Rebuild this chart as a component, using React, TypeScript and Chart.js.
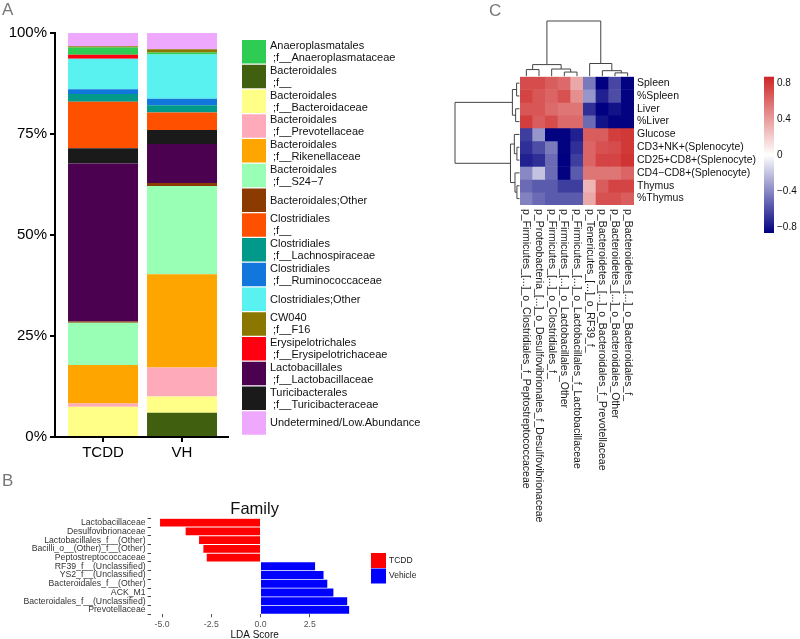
import React, { useEffect, useRef } from 'react';
import { Chart, registerables } from 'chart.js';
Chart.register(...registerables);

const FONT = "'Liberation Sans', Arial, Helvetica, sans-serif";

// ---------- Panel A : relative abundance ----------
const GROUPS = ['TCDD', 'VH'];
const TAXA = [
  'Anaeroplasmatales\n ;f__Anaeroplasmataceae',
  'Bacteroidales\n ;f__',
  'Bacteroidales\n ;f__Bacteroidaceae',
  'Bacteroidales\n ;f__Prevotellaceae',
  'Bacteroidales\n ;f__Rikenellaceae',
  'Bacteroidales\n ;f__S24\u22127',
  'Bacteroidales;Other',
  'Clostridiales\n ;f__',
  'Clostridiales\n ;f__Lachnospiraceae',
  'Clostridiales\n ;f__Ruminococcaceae',
  'Clostridiales;Other',
  'CW040\n ;f__F16',
  'Erysipelotrichales\n ;f__Erysipelotrichaceae',
  'Lactobacillales\n ;f__Lactobacillaceae',
  'Turicibacterales\n ;f__Turicibacteraceae',
  'Undetermined/Low.Abundance',
];
const TAXA_COLORS = [
  '#2ECC52', '#40600F', '#FFFF88', '#FFAABB', '#FFA500', '#99FFB4', '#8B3A00', '#FF5000',
  '#00998A', '#1177DD', '#5AF2F0', '#8B7700', '#FF0010', '#4B0050', '#1A1A1A', '#EEA9FF',
];
const TCDD_ABUND = [1.8, 0, 7.5, 0.8, 9.5, 10.5, 0.3, 11.5, 1.9, 1.2, 7.5, 0.3, 1.0, 39.1, 3.8, 3.3];
const VH_ABUND = [0.5, 6.0, 4.0, 7.2, 23.1, 21.8, 0.8, 4.3, 1.8, 1.6, 11.0, 0.8, 0, 9.6, 3.5, 4.0];
const STACK_ORDER = [1, 2, 3, 4, 5, 6, 13, 14, 7, 8, 9, 10, 12, 0, 11, 15];
const PCT_TICKS = [0, 25, 50, 75, 100];

// ---------- Panel B : LDA scores ----------
const LDA_LABELS = [
  'Lactobacillaceae', 'Desulfovibrionaceae', 'Lactobacillales_f__(Other)', 'Bacilli_o__(Other)_f__(Other)',
  'Peptostreptococcaceae', 'RF39_f__(Unclassified)', 'YS2_f__(Unclassified)', 'Bacteroidales_f__(Other)',
  'ACK_M1', 'Bacteroidales_f__(Unclassified)', 'Prevotellaceae',
];
const LDA_TCDD = [-5.1, -3.8, -3.12, -2.9, -2.73, null, null, null, null, null, null];
const LDA_VEHICLE = [null, null, null, null, null, 2.77, 3.2, 3.39, 3.7, 4.4, 4.5];
const LDA_TICKS = [-5, -2.5, 0, 2.5];

// ---------- Panel C : correlation heatmap ----------
const ROW_LABELS = ['Spleen', '%Spleen', 'Liver', '%Liver', 'Glucose', 'CD3+NK+(Splenocyte)',
  'CD25+CD8+(Splenocyte)', 'CD4\u2212CD8+(Splenocyte)', 'Thymus', '%Thymus'];
const COL_LABELS = [
  'p_Firmicutes_[...]_o_Clostridiales_f_Peptostreptococcaceae',
  'p_Proteobacteria_[...]_o_Desulfovibrionales_f_Desulfovibrionaceae',
  'p_Firmicutes_[...]_o_Clostridiales_f_',
  'p_Firmicutes_[...]_o_Lactobacillales_Other',
  'p_Firmicutes_[...]_o_Lactobacillales_f_Lactobacillaceae',
  'p_Tenericutes_[...]_o_RF39_f_',
  'p_Bacteroidetes_[...]_o_Bacteroidales_f_Prevotellaceae',
  'p_Bacteroidetes_[...]_o_Bacteroidales_Other',
  'p_Bacteroidetes_[...]_o_Bacteroidales_f_',
];
const HEAT_SPLEEN = [0.72, 0.72, 0.65, 0.6, 0.35, -0.45, -0.9, -0.62, -0.85];
const HEAT_PSPLEEN = [0.75, 0.68, 0.62, 0.7, 0.45, -0.35, -0.75, -0.6, -0.85];
const HEAT_LIVER = [0.68, 0.68, 0.6, 0.55, 0.55, -0.7, -0.95, -0.8, -0.85];
const HEAT_PLIVER = [0.78, 0.65, 0.72, 0.6, 0.6, -0.5, -0.8, -0.85, -0.85];
const HEAT_GLUCOSE = [-0.65, -0.35, -0.85, -0.85, -0.75, 0.65, 0.65, 0.78, 0.8];
const HEAT_CD3 = [-0.7, -0.6, -0.45, -0.85, -0.7, 0.62, 0.7, 0.72, 0.8];
const HEAT_CD25 = [-0.75, -0.7, -0.5, -0.88, -0.65, 0.62, 0.75, 0.75, 0.82];
const HEAT_CD4 = [-0.4, -0.2, -0.5, -0.85, -0.55, 0.55, 0.55, 0.55, 0.62];
const HEAT_THYMUS = [-0.5, -0.55, -0.55, -0.65, -0.65, 0.3, 0.65, 0.75, 0.75];
const HEAT_PTHYMUS = [-0.42, -0.5, -0.55, -0.55, -0.55, 0.35, 0.7, 0.7, 0.65];
const HEAT = [HEAT_SPLEEN, HEAT_PSPLEEN, HEAT_LIVER, HEAT_PLIVER, HEAT_GLUCOSE, HEAT_CD3,
  HEAT_CD25, HEAT_CD4, HEAT_THYMUS, HEAT_PTHYMUS];
const C_MIN = -0.86;
const C_MAX = 0.87;
const COLORBAR_TICKS = [0.8, 0.4, 0, -0.4, -0.8];
// dendrogram merges: [childA, childB, height]; numbers are leaves, 'nK' is K-th merge
const COL_MERGES: any[] = [
  [0, 1, 0.12], [3, 4, 0.075], [2, 'n1', 0.13], ['n0', 'n2', 0.21],
  [7, 8, 0.06], [6, 'n4', 0.1], [5, 'n5', 0.23], ['n3', 'n6', 1.0],
];
const ROW_MERGES: any[] = [
  [0, 1, 0.045], [2, 3, 0.06], ['n0', 'n1', 0.11], [5, 6, 0.04], [4, 'n3', 0.08],
  [8, 9, 0.04], [7, 'n5', 0.07], ['n4', 'n6', 0.14], ['n2', 'n7', 1.0],
];

const LOW = [0, 0, 128];
const MID = [255, 255, 255];
const HIGH = [205, 38, 38];
function heatColor(v: number) {
  const t = Math.min(1, Math.max(0, (v - C_MIN) / (C_MAX - C_MIN)));
  let a = LOW, b = MID, f = t / 0.5;
  if (t >= 0.5) { a = MID; b = HIGH; f = (t - 0.5) / 0.5; }
  const c = a.map((x, i) => Math.round(x + (b[i] - x) * f));
  return `rgb(${c[0]},${c[1]},${c[2]})`;
}

function drawTree(ctx: CanvasRenderingContext2D, merges: any[], leafPos: (i: number) => number,
  hToPix: (h: number) => number, vertical: boolean) {
  const nodes: Record<string, { p: number; h: number }> = {};
  const get = (id: any) => (typeof id === 'number' ? { p: leafPos(id), h: 0 } : nodes[id]);
  merges.forEach((m, k) => {
    const a = get(m[0]);
    const b = get(m[1]);
    const hp = hToPix(m[2]);
    ctx.beginPath();
    if (vertical) {
      ctx.moveTo(a.p, hToPix(a.h)); ctx.lineTo(a.p, hp); ctx.lineTo(b.p, hp); ctx.lineTo(b.p, hToPix(b.h));
    } else {
      ctx.moveTo(hToPix(a.h), a.p); ctx.lineTo(hp, a.p); ctx.lineTo(hp, b.p); ctx.lineTo(hToPix(b.h), b.p);
    }
    ctx.stroke();
    nodes['n' + k] = { p: (a.p + b.p) / 2, h: m[2] };
  });
}

export default function App() {
  const refA = useRef<HTMLCanvasElement>(null);
  const refB = useRef<HTMLCanvasElement>(null);
  const refC = useRef<HTMLCanvasElement>(null);

  useEffect(() => {
    const charts: Chart[] = [];

    // ---------------- Panel A ----------------
    const legendA = {
      id: 'legendA',
      afterDraw(chart: any) {
        const ctx = chart.ctx;
        ctx.save();
        ctx.fillStyle = '#777';
        ctx.font = `17px ${FONT}`;
        ctx.textBaseline = 'top';
        ctx.fillText('A', 2, 2);
        ctx.font = `11px ${FONT}`;
        ctx.textBaseline = 'middle';
        TAXA.forEach((name, i) => {
          const top = 40 + i * 24.75;
          ctx.fillStyle = TAXA_COLORS[i];
          ctx.fillRect(242, top, 24, 23.5);
          ctx.fillStyle = '#111';
          const lines = name.split('\n');
          if (lines.length === 1) ctx.fillText(lines[0], 270, top + 12);
          else { ctx.fillText(lines[0], 270, top + 6); ctx.fillText(lines[1], 270, top + 18); }
        });
        ctx.restore();
      },
    };
    charts.push(new Chart(refA.current!, {
      type: 'bar',
      data: {
        datasets: STACK_ORDER.map((i) => ({
          label: TAXA[i].replace('\n', ''),
          data: [{ x: 1, y: TCDD_ABUND[i] }, { x: 2, y: VH_ABUND[i] }],
          backgroundColor: TAXA_COLORS[i],
          borderWidth: 0,
        })),
      } as any,
      options: {
        animation: false,
        responsive: false,
        maintainAspectRatio: false,
        layout: { padding: { left: 0, top: 33, right: 212, bottom: 0 } },
        datasets: { bar: { categoryPercentage: 1, barPercentage: 0.886 } },
        plugins: { legend: { display: false }, tooltip: { enabled: false } },
        scales: {
          x: {
            type: 'linear', stacked: true, offset: false, bounds: 'data', min: 0.392, max: 2.582,
            afterBuildTicks: (s: any) => { s.ticks = GROUPS.map((_, i) => ({ value: i + 1 })); },
            ticks: { callback: (v: any) => GROUPS[Math.round(v) - 1], font: { family: FONT, size: 15 }, color: '#000', padding: 2 },
            grid: { offset: false, drawOnChartArea: false, drawTicks: true, tickLength: 5, color: '#000', lineWidth: 2 },
            border: { display: true, color: '#000', width: 2 },
            afterFit: (s: any) => { s.height = 33; },
          },
          y: {
            stacked: true, min: 0, max: 100,
            afterBuildTicks: (s: any) => { s.ticks = PCT_TICKS.map((v) => ({ value: v })); },
            ticks: { callback: (v: any) => v + '%', font: { family: FONT, size: 15 }, color: '#000', padding: 3 },
            grid: { drawOnChartArea: false, drawTicks: true, tickLength: 5, color: '#000', lineWidth: 2 },
            border: { display: true, color: '#000', width: 2 },
            afterFit: (s: any) => { s.width = 55; },
          },
        },
      } as any,
      plugins: [legendA],
    }));

    // ---------------- Panel B ----------------
    const decoB = {
      id: 'decoB',
      afterDraw(chart: any) {
        const ctx = chart.ctx;
        const ca = chart.chartArea;
        ctx.save();
        ctx.fillStyle = '#777';
        ctx.font = `17px ${FONT}`;
        ctx.textBaseline = 'top';
        ctx.fillText('B', 2, 3);
        const cx = (ca.left + ca.right) / 2;
        ctx.fillStyle = '#111';
        ctx.textAlign = 'center';
        ctx.textBaseline = 'middle';
        ctx.font = `16.5px ${FONT}`;
        ctx.fillText('Family', cx, 39);
        ctx.font = `10px ${FONT}`;
        ctx.fillText('LDA Score', cx, 165);
        // legend
        ctx.textAlign = 'left';
        ctx.fillStyle = '#FF0000';
        ctx.fillRect(371, 83, 15, 15);
        ctx.fillStyle = '#0000FF';
        ctx.fillRect(371, 98.5, 15, 15);
        ctx.fillStyle = '#222';
        ctx.font = `8.5px ${FONT}`;
        ctx.fillText('TCDD', 389, 90.5);
        ctx.fillText('Vehicle', 389, 106);
        ctx.restore();
      },
    };
    charts.push(new Chart(refB.current!, {
      type: 'bar',
      data: {
        labels: LDA_LABELS,
        datasets: [
          { label: 'TCDD', data: LDA_TCDD, backgroundColor: '#FF0000', borderWidth: 0 },
          { label: 'Vehicle', data: LDA_VEHICLE, backgroundColor: '#0000FF', borderWidth: 0 },
        ],
      } as any,
      options: {
        indexAxis: 'y',
        animation: false,
        responsive: false,
        maintainAspectRatio: false,
        layout: { padding: { left: 0, top: 48.3, right: 81.4, bottom: 0 } },
        datasets: { bar: { categoryPercentage: 0.9, barPercentage: 1 } },
        plugins: { legend: { display: false }, tooltip: { enabled: false } },
        scales: {
          x: {
            stacked: true, min: -5.58, max: 4.98,
            afterBuildTicks: (s: any) => { s.ticks = LDA_TICKS.map((v) => ({ value: v })); },
            ticks: { callback: (v: any) => Number(v).toFixed(1), font: { family: FONT, size: 8.7 }, color: '#555', padding: 2 },
            grid: { drawOnChartArea: false, drawTicks: true, tickLength: 3, color: '#555' },
            border: { display: false },
            afterFit: (s: any) => { s.height = 24.7; },
          },
          y: {
            stacked: true,
            ticks: { autoSkip: false, font: { family: FONT, size: 8.7 }, color: '#333', padding: 2 },
            grid: { drawOnChartArea: false, drawTicks: true, tickLength: 3, color: '#444' },
            border: { display: false },
            afterFit: (s: any) => { s.width = 150.6; },
          },
        },
      } as any,
      plugins: [decoB],
    }));

    // ---------------- Panel C ----------------
    const decoC = {
      id: 'decoC',
      afterDraw(chart: any) {
        const ctx = chart.ctx;
        const ca = chart.chartArea;
        const xs = chart.scales.x;
        const ys = chart.scales.y;
        ctx.save();
        ctx.fillStyle = '#777';
        ctx.font = `17px ${FONT}`;
        ctx.textBaseline = 'top';
        ctx.fillText('C', 49, 3);
        // dendrograms
        ctx.strokeStyle = '#444';
        ctx.lineWidth = 1;
        drawTree(ctx, COL_MERGES, (i) => xs.getPixelForValue(i), (h) => ca.top - 0.5 - h * 55.2, true);
        drawTree(ctx, ROW_MERGES, (i) => ys.getPixelForValue(i + 0.5), (h) => ca.left - 0.5 - h * 64.5, false);
        // column labels (rotated)
        ctx.fillStyle = '#1a1a1a';
        ctx.font = `10.5px ${FONT}`;
        ctx.textAlign = 'left';
        ctx.textBaseline = 'middle';
        COL_LABELS.forEach((lab, i) => {
          ctx.save();
          ctx.translate(xs.getPixelForValue(i), ca.bottom + 4);
          ctx.rotate(Math.PI / 2);
          ctx.fillText(lab, 0, 0);
          ctx.restore();
        });
        // colour bar
        const bx = 324, bw = 10, bt = 76.7, bb = 233;
        const g = ctx.createLinearGradient(0, bt, 0, bb);
        const steps = 20;
        for (let k = 0; k <= steps; k++) {
          const v = C_MAX - (k / steps) * (C_MAX - C_MIN);
          g.addColorStop(k / steps, heatColor(v));
        }
        ctx.fillStyle = g;
        ctx.fillRect(bx, bt, bw, bb - bt);
        ctx.fillStyle = '#111';
        ctx.font = `10px ${FONT}`;
        COLORBAR_TICKS.forEach((v) => {
          const y = bt + ((C_MAX - v) / (C_MAX - C_MIN)) * (bb - bt);
          const txt = v === 0 ? '0' : (v < 0 ? '\u2212' : '') + Math.abs(v).toFixed(1);
          ctx.fillText(txt, 337, y);
        });
        ctx.restore();
      },
    };
    charts.push(new Chart(refC.current!, {
      type: 'bar',
      data: {
        labels: COL_LABELS,
        datasets: ROW_LABELS.map((r, ri) => ({
          label: r,
          data: HEAT[ri].map(() => 1),
          backgroundColor: HEAT[ri].map((v) => heatColor(v)),
          borderWidth: 0,
        })),
      } as any,
      options: {
        animation: false,
        responsive: false,
        maintainAspectRatio: false,
        layout: { padding: { left: 80, top: 76.7, right: 0, bottom: 434 } },
        datasets: { bar: { categoryPercentage: 1, barPercentage: 1 } },
        plugins: { legend: { display: false }, tooltip: { enabled: false } },
        scales: {
          x: { display: false, stacked: true },
          y: {
            position: 'right', stacked: true, reverse: true, min: 0, max: ROW_LABELS.length,
            afterBuildTicks: (s: any) => { s.ticks = ROW_LABELS.map((_, i) => ({ value: i + 0.5 })); },
            ticks: { autoSkip: false, callback: (_v: any, i: number) => ROW_LABELS[i], font: { family: FONT, size: 10.5 }, color: '#111', padding: 3 },
            grid: { display: false, drawTicks: false },
            border: { display: false },
            afterFit: (s: any) => { s.width = 166; },
          },
        },
      } as any,
      plugins: [decoC],
    }));

    return () => { charts.forEach((c) => c.destroy()); };
  }, []);

  return (
    <div style={{ position: 'fixed', left: 0, top: 0, width: 800, height: 639, background: '#fff', overflow: 'hidden' }}>
      <canvas ref={refA} width={440} height={470} style={{ position: 'absolute', left: 0, top: 0, width: 440, height: 470 }} />
      <canvas ref={refB} width={440} height={169} style={{ position: 'absolute', left: 0, top: 470, width: 440, height: 169 }} />
      <canvas ref={refC} width={360} height={639} style={{ position: 'absolute', left: 440, top: 0, width: 360, height: 639 }} />
    </div>
  );
}
